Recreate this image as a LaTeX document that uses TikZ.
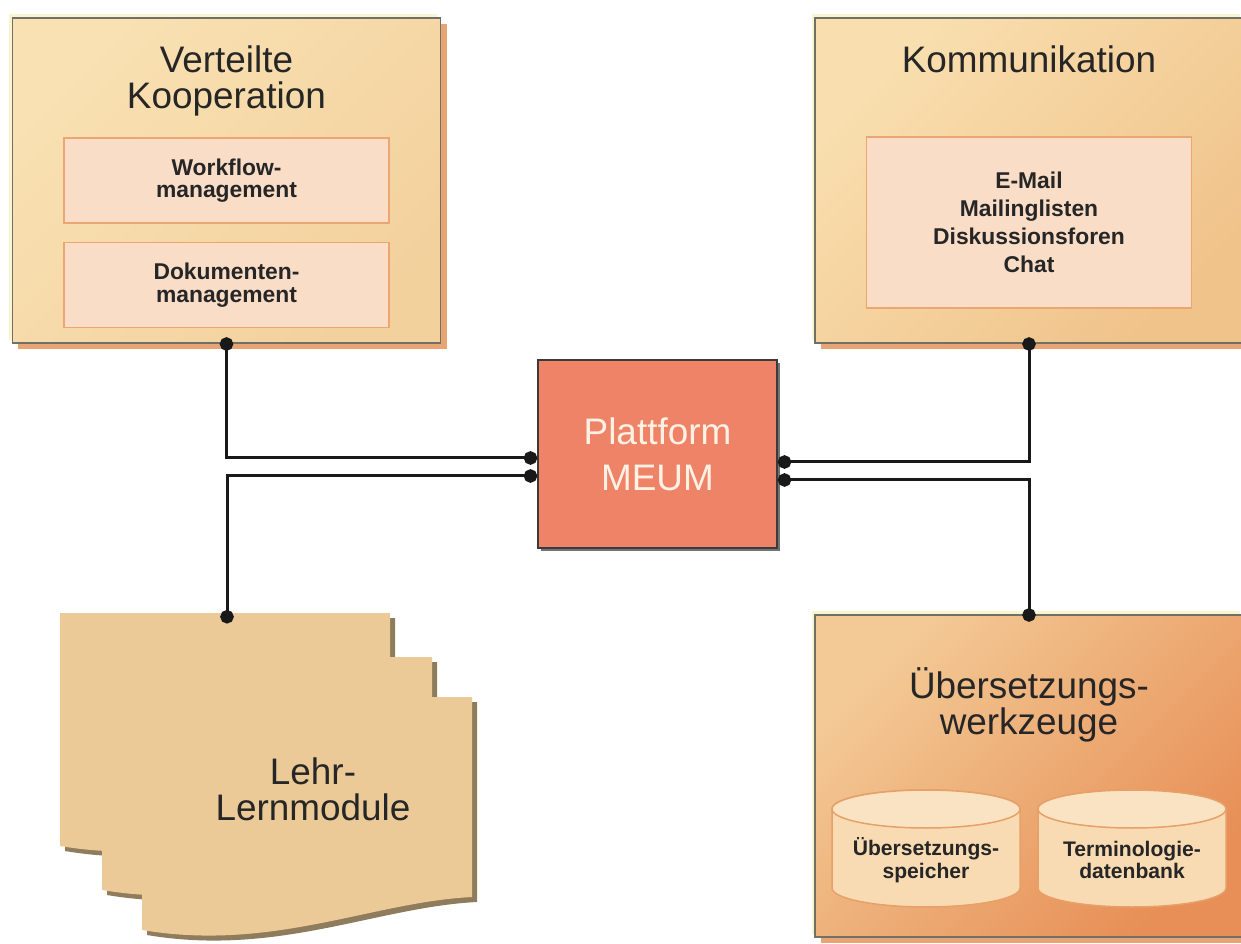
\documentclass[tikz,border=0pt]{standalone}
\usepackage{fontspec}
\setmainfont{Liberation Sans}
\usetikzlibrary{arrows.meta,calc,positioning,shadows}
\definecolor{boxline}{HTML}{707068}
\definecolor{boxglow}{HTML}{F9F5D0}
\definecolor{boxshadow}{HTML}{E8A472}
\definecolor{kooplight}{HTML}{F9E1B3}
\definecolor{koopdark}{HTML}{F3D19D}
\definecolor{kommlight}{HTML}{F9DFAF}
\definecolor{kommdark}{HTML}{F0C38A}
\definecolor{ueberslight}{HTML}{F3CA96}
\definecolor{uebersdark}{HTML}{E78F56}
\definecolor{innerfill}{HTML}{FADDC7}
\definecolor{innerline}{HTML}{ECA672}
\definecolor{platfill}{HTML}{EE8368}
\definecolor{platline}{HTML}{3A3A3A}
\definecolor{plattext}{HTML}{FFF2E4}
\definecolor{docfill}{HTML}{ECCA97}
\definecolor{docshadow}{HTML}{8F7C5C}
\definecolor{cylfill}{HTML}{F8DBB3}
\definecolor{cyltop}{HTML}{FAE3C3}
\definecolor{cylline}{HTML}{E7A068}
\definecolor{textdark}{HTML}{262626}
\tikzset{
  area/.style={rectangle,draw=boxline,line width=0.3mm,minimum width=8.56cm,minimum height=6.5cm,
    general shadow={fill=boxglow,shadow xshift=-0.7mm,shadow yshift=0.7mm},
    general shadow={fill=boxshadow,shadow xshift=1.2mm,shadow yshift=-1.2mm}},
  areatitle/.style={inner sep=0pt,align=center,text=textdark,font=\fontsize{21}{20.5}\selectfont},
  item/.style={rectangle,draw=innerline,fill=innerfill,line width=0.3mm,minimum width=6.5cm,
    align=center,text=textdark,font=\fontsize{13}{12.8}\selectfont\bfseries},
  hub/.style={rectangle,draw=platline,fill=platfill,line width=0.3mm,minimum width=4.78cm,minimum height=3.76cm,
    align=center,text=plattext,font=\fontsize{21}{26}\selectfont,
    drop shadow={fill=black!55,opacity=1,shadow xshift=0.6mm,shadow yshift=-0.6mm}},
  blatt/.style={fill=docfill,drop shadow={fill=docshadow,opacity=1,shadow xshift=1mm,shadow yshift=-1mm}},
  storebody/.style={fill=cylfill,draw=cylline,line width=0.3mm},
  storetop/.style={fill=cyltop,draw=cylline,line width=0.3mm},
  storetext/.style={inner sep=0pt,align=center,text=textdark,font=\fontsize{12}{13}\selectfont\bfseries},
  link/.style={{Circle[length=2.7mm]}-{Circle[length=2.7mm]},line width=0.6mm,draw=black!90}
}

\begin{document}
\begin{tikzpicture}[x=0.2mm,y=-0.2mm]
\path[use as bounding box,clip] (0,0) rectangle (1241,944);

% Lehr-/Lernmodule als Dokumentstapel
\foreach \dx/\dy in {60/613,102/657,142/697}
  \path[blatt] (\dx,\dy) -- ++(330,0) -- ++(0,200) .. controls +(-100,5) and +(130,22) .. ++(-330,33) -- cycle;
\coordinate (blatt) at (227,613);
\node[areatitle,anchor=north] (lehr) at (313,757.5) {Lehr-\\Lernmodule};

% Bereiche
\node[area,top color=kooplight,bottom color=koopdark,shading angle=45] (koop) at (226.5,180.5) {};
\node[areatitle,below=5.7mm of koop.north] (kooptitel) {Verteilte\\Kooperation};
\node[item,minimum height=1.7cm,below=24mm of koop.north] (workflow) {Workflow-\\management};
\node[item,minimum height=1.7cm,below=3.6mm of workflow] (dokumente) {Dokumenten-\\management};

\node[area,top color=kommlight,bottom color=kommdark,shading angle=45] (komm) at (1029,180.5) {};
\node[areatitle,below=5.7mm of komm.north] (kommtitel) {Kommunikation};
\node[item,minimum height=3.42cm,below=23.8mm of komm.north,font=\fontsize{13}{16}\selectfont\bfseries] (kanaele)
  {E-Mail\\Mailinglisten\\Diskussionsforen\\Chat};

\node[area,minimum height=6.44cm,top color=ueberslight,bottom color=uebersdark,shading angle=45] (uebers) at (1029,776) {};
\node[areatitle,below=10.6mm of uebers.north] (uebertitel) {Übersetzungs-\\werkzeuge};
\foreach \cx in {926,1132} {
  \path[storebody] (\cx-94,809) -- (\cx-94,888) arc[start angle=180,end angle=0,x radius=94,y radius=19]
    -- (\cx+94,809) arc[start angle=0,end angle=-180,x radius=94,y radius=19] -- cycle;
  \path[storetop] (\cx,809) ellipse[x radius=94,y radius=19];
}
\node[storetext] (speicher) at (926,860) {Übersetzungs-\\speicher};
\node[storetext] (termdb) at (1132,860) {Terminologie-\\datenbank};

% Plattform
\node[hub] (plat) at (657.5,454) {Plattform\\MEUM};

% Verbindungen
\draw[link] ($(koop.south)+(0,-6.5)$) |- ($(plat.west)+(0,4)$);
\draw[link] ($(blatt)+(0,10.5)$) |- ($(plat.west)+(0,22)$);
\draw[link] ($(komm.south)+(0,-6.5)$) |- ($(plat.east)+(0,8)$);
\draw[link] ($(uebers.north)+(0,7.5)$) |- ($(plat.east)+(0,26)$);
\end{tikzpicture}
\end{document}
